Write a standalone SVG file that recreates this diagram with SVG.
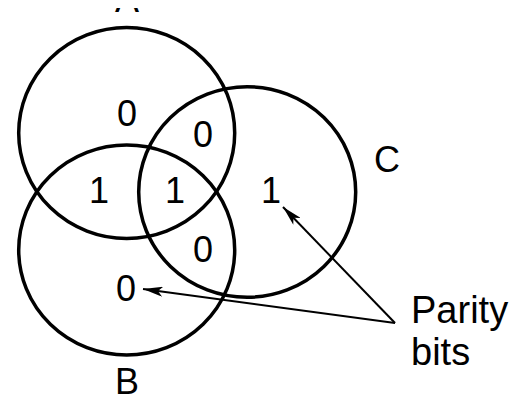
<svg xmlns="http://www.w3.org/2000/svg" width="517" height="400" viewBox="0 0 517 400">
<style>
.c{fill:none;stroke:#000;stroke-width:3.5}
.t{font-family:"Liberation Sans",Arial,sans-serif;font-size:36px;fill:#000;text-anchor:middle}
.p{font-family:"Liberation Sans",Arial,sans-serif;font-size:38px;fill:#000;text-anchor:start}
.a{stroke:#000;stroke-width:2;fill:none;marker-end:url(#ah)}
</style>
<defs>
<marker id="ah" viewBox="0 0 20 10" refX="20" refY="5" markerWidth="20" markerHeight="10" markerUnits="userSpaceOnUse" orient="auto">
<path d="M0,0 L20,5 L0,10 L5,5 Z" fill="#000"/>
</marker>
<clipPath id="cp"><rect x="0" y="8" width="517" height="10"/></clipPath>
</defs>
<rect width="517" height="400" fill="#fff"/>
<g id="circleA">
<ellipse class="c" cx="126.7" cy="133" rx="108" ry="105.5"/>
<text class="t" x="127" y="12" clip-path="url(#cp)">A</text>
</g>
<g id="circleB">
<ellipse class="c" cx="126.7" cy="250" rx="108" ry="105"/>
<text class="t" x="127" y="394">B</text>
</g>
<g id="circleC">
<ellipse class="c" cx="247.2" cy="192" rx="108.5" ry="105.3"/>
<text class="t" x="387" y="172">C</text>
</g>
<g id="bits">
<text class="t" x="127" y="126">0</text>
<text class="t" x="203" y="147">0</text>
<text class="t" x="99" y="203">1</text>
<text class="t" x="175" y="203">1</text>
<text class="t" x="271" y="203">1</text>
<text class="t" x="203" y="262">0</text>
<text class="t" x="126" y="301">0</text>
</g>
<g id="parity">
<text class="p" x="411" y="323">Parity</text>
<text class="p" x="411" y="365">bits</text>
</g>
<g id="connectors">
<line class="a" x1="395" y1="323" x2="143" y2="289"/>
<line class="a" x1="395" y1="323" x2="283" y2="207"/>
</g>
</svg>
